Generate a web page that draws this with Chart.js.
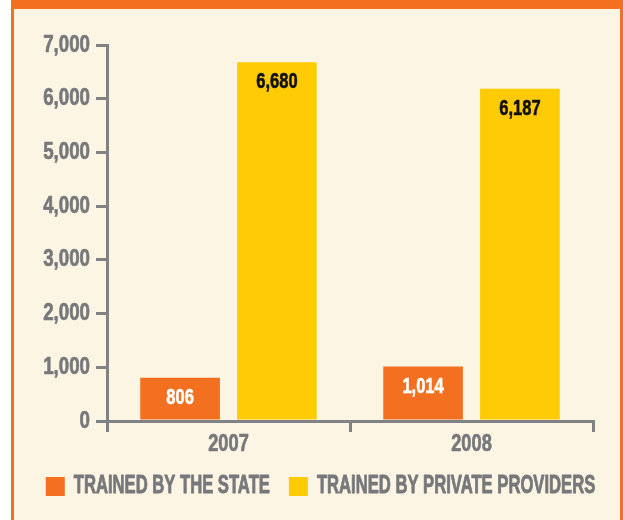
<!DOCTYPE html>
<html>
<head>
<meta charset="utf-8">
<script src="https://cdn.jsdelivr.net/npm/chart.js@4.4.1/dist/chart.umd.min.js"></script>
<style>
  html, body { margin: 0; padding: 0; background: #fff; }
  #frame {
    position: absolute; left: 11px; top: 0; width: 612px; height: 530px;
    background: #fdf5e4; border-top: 9px solid #f37021;
    border-left: 3px solid #f37021; border-right: 3px solid #f37021;
    box-sizing: border-box;
  }
  #wrap { position: absolute; left: 0; top: 0; width: 623px; height: 520px; }
</style>
</head>
<body>
<div id="frame"></div>
<div id="wrap"><canvas id="chart" width="623" height="520"></canvas></div>
<script>
const years = ['2007', '2008'];
const trainedByState = [806, 1014];
const trainedByPrivate = [6680, 6187];
const seriesNames = ['TRAINED BY THE STATE', 'TRAINED BY PRIVATE PROVIDERS'];
const yTicks = [0, 1000, 2000, 3000, 4000, 5000, 6000, 7000];

const ORANGE = '#f37021';
const YELLOW = '#ffcb05';
const GRAY = '#77787b';
const AXIS = '#808285';
const FONT = '"Liberation Sans", Arial, sans-serif';
const labelColors = ['#ffffff', '#111111'];

const fmt = v => v.toLocaleString('en-US');

// the source uses a heavy condensed face, so text is squeezed and thickened
function narrowText(ctx, text, x, y, size, sx, align, color, heavy) {
  ctx.save();
  ctx.font = 'bold ' + size + 'px ' + FONT;
  ctx.fillStyle = color;
  ctx.strokeStyle = color;
  ctx.textAlign = align;
  ctx.textBaseline = 'middle';
  ctx.translate(x, y);
  ctx.scale(sx, 1);
  ctx.fillText(text, 0, 0);
  if (heavy) {
    ctx.lineWidth = heavy;
    ctx.lineJoin = 'round';
    ctx.strokeText(text, 0, 0);
  }
  ctx.restore();
}

function narrowWidth(ctx, text, size, sx) {
  ctx.save();
  ctx.font = 'bold ' + size + 'px ' + FONT;
  const w = ctx.measureText(text).width * sx;
  ctx.restore();
  return w;
}

const condensedText = {
  id: 'condensedText',
  afterDatasetsDraw(chart) {
    const ctx = chart.ctx;
    chart.data.datasets.forEach((ds, i) => {
      chart.getDatasetMeta(i).data.forEach((bar, j) => {
        narrowText(ctx, fmt(ds.data[j]), bar.x, bar.y + 20, 22, 0.75, 'center', labelColors[i], 0.6);
      });
    });
  },
  afterDraw(chart) {
    const ctx = chart.ctx;
    const xs = chart.scales.x, ys = chart.scales.y;

    ys.ticks.forEach(t => {
      narrowText(ctx, fmt(t.value), ys.right - 11 - 6, ys.getPixelForValue(t.value), 24, 0.78, 'right', GRAY, 0.7);
    });
    chart.data.labels.forEach((lab, i) => {
      narrowText(ctx, lab, xs.getPixelForValue(i), xs.top + 23, 24, 0.76, 'center', GRAY, 0.7);
    });

    // legend
    const pad = chart.options.layout.padding;
    const box = 19, gap = 9, spacing = 19, lsize = 25, lsx = 0.665;
    const colors = chart.data.datasets.map(d => d.backgroundColor);
    const widths = seriesNames.map(s => narrowWidth(ctx, s, lsize, lsx));
    const total = widths.reduce((a, w) => a + box + gap + w, 0) + spacing * (widths.length - 1);
    let x = (pad.left + chart.width - pad.right) / 2 - total / 2;
    const cy = xs.bottom + 25.5;
    seriesNames.forEach((s, i) => {
      ctx.fillStyle = colors[i];
      ctx.fillRect(x, cy - box / 2, box, box);
      x += box + gap;
      narrowText(ctx, s, x, cy, lsize, lsx, 'left', GRAY, 0.9);
      x += widths[i] + spacing;
    });
  }
};

new Chart(document.getElementById('chart'), {
  type: 'bar',
  data: {
    labels: years,
    datasets: [
      { label: seriesNames[0], data: trainedByState, backgroundColor: ORANGE },
      { label: seriesNames[1], data: trainedByPrivate, backgroundColor: YELLOW }
    ]
  },
  options: {
    responsive: false,
    animation: false,
    events: [],
    categoryPercentage: 0.797,
    barPercentage: 0.823,
    layout: { padding: { top: 45, left: 48, right: 30, bottom: 59 } },
    plugins: {
      tooltip: { enabled: false },
      legend: { display: false }
    },
    scales: {
      x: {
        grid: { display: true, drawOnChartArea: false, drawTicks: true, tickLength: 11, color: AXIS, lineWidth: 3, offset: true },
        border: { display: true, color: AXIS, width: 3 },
        ticks: { display: false },
        afterFit(scale) { scale.height = 40; }
      },
      y: {
        min: 0,
        max: 7000,
        afterBuildTicks(scale) { scale.ticks = yTicks.map(v => ({ value: v })); },
        grid: { display: true, drawOnChartArea: false, drawTicks: true, tickLength: 11, color: AXIS, lineWidth: 3 },
        border: { display: true, color: AXIS, width: 3 },
        ticks: { display: false },
        afterFit(scale) { scale.width = 59; }
      }
    }
  },
  plugins: [condensedText]
});
</script>
</body>
</html>
